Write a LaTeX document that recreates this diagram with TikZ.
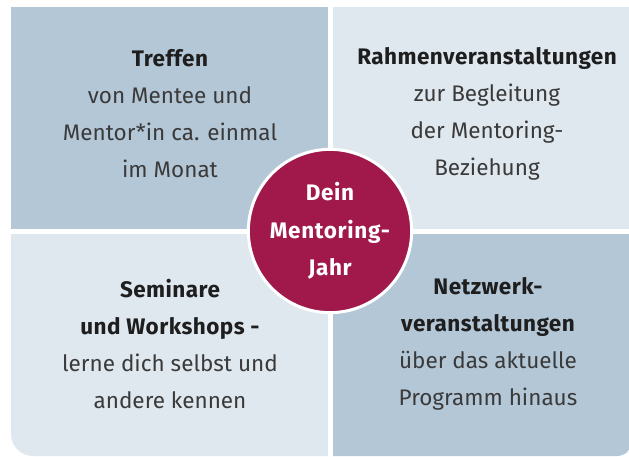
\documentclass[tikz,border=0pt]{standalone}
\usepackage{fontspec}
\setmainfont{Fira Sans}
\usetikzlibrary{positioning}
\definecolor{darkquad}{HTML}{B4C7D7}
\definecolor{lightquad}{HTML}{DFE7EF}
\definecolor{jahrred}{HTML}{A0194A}
\definecolor{bodygrey}{HTML}{3A3A3A}
\definecolor{headgrey}{HTML}{1E1E1E}

\begin{document}
\begin{tikzpicture}
            [
            x=1pt, y=1pt,
            quad/.style={fill=#1, inner sep=0pt, minimum width=317pt,
                minimum height=222pt},
            quad text/.style={align=center, text=bodygrey,
                font=\fontsize{22.5}{37}\selectfont},
            year dot/.style={circle, fill=jahrred, draw=white, line width=3pt,
                minimum size=162pt, text=white, align=center,
                font=\fontsize{22.5}{37.5}\selectfont\bfseries\addfontfeature{LetterSpace=3}}
            ]
            \newcommand{\head}[1]{{\color{headgrey}\bfseries\addfontfeature{LetterSpace=2} #1}}

            \useasboundingbox (0,0) rectangle (629,456);

            % the four fields, bottom corners rounded
            \begin{scope}
                \clip (11,100) rectangle (640,449)
                    [rounded corners=22pt] (11,0) rectangle (400,300)
                    [rounded corners=15pt] (300,0) rectangle (632,300);
                \node (treffen) [quad=darkquad, anchor=north west] at (11,449) {};
                \node (rahmen) [right=4pt of treffen, quad=lightquad, minimum width=310pt] {};
                \node (seminare) [below=4pt of treffen, quad=lightquad, minimum height=240pt] {};
                \node (netzwerk) [right=4pt of seminare, quad=darkquad, minimum width=310pt,
                    minimum height=240pt] {};
            \end{scope}

            % Texts of the fields
            \node (treffen text) [quad text] at (170,342)
                {\head{Treffen}\\von Mentee und\\Mentor*in ca. einmal\\im Monat};
            \node (rahmen text) [quad text] at (487,342)
                {\head{Rahmenveranstaltungen}\\zur Begleitung\\der Mentoring-\\Beziehung};
            \node (seminare text) [quad text] at (170,112)
                {\head{Seminare}\\\head{und Workshops -}\\lerne dich selbst und\\andere kennen};
            \node (netzwerk text) [quad text] at (488,112)
                {\head{Netzwerk-}\\\head{veranstaltungen}\\über das aktuelle\\Programm hinaus};

            \node (jahr) [year dot] at (330,225) {Dein\\Mentoring-\\Jahr};

        \end{tikzpicture}
\end{document}
